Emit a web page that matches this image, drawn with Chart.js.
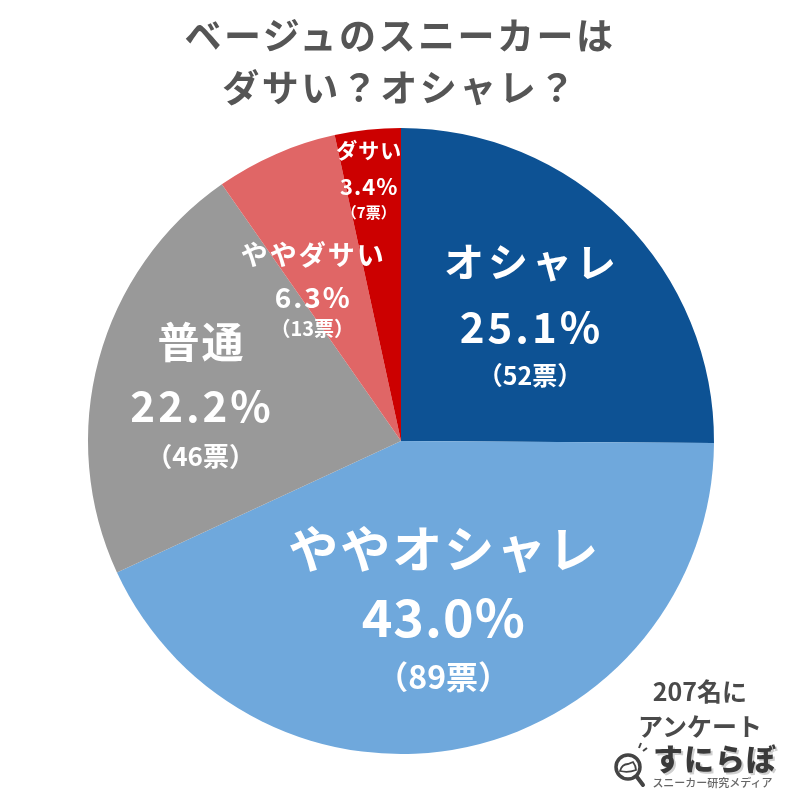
<!DOCTYPE html>
<html><head><meta charset="utf-8">
<script src="https://cdn.jsdelivr.net/npm/chart.js@4.4.1/dist/chart.umd.min.js"></script>
<style>
html,body{margin:0;padding:0;background:#fff;}
#wrap{width:800px;height:800px;position:relative;overflow:hidden;font-family:"Noto Sans CJK JP","Noto Sans",sans-serif;}
#c{position:absolute;left:0;top:0;}
#title{position:absolute;left:0;top:8px;width:800px;text-align:center;font-size:37px;font-weight:700;color:#555;line-height:52px;letter-spacing:2.5px;}
#note{position:absolute;left:600px;top:673px;width:200px;text-align:center;font-size:25px;font-weight:700;color:#4a4a4a;line-height:35px;}
#logo{position:absolute;left:650px;top:738px;width:130px;text-align:center;font-size:30px;font-weight:900;color:#3a3a3a;line-height:38px;letter-spacing:1px;text-shadow:2px 2px 0 #cfcfcf;}
#sub{position:absolute;left:645px;top:774px;width:135px;text-align:center;font-size:11px;font-weight:500;color:#666;line-height:16px;}
#icon{position:absolute;left:608px;top:740px;}
</style>
</head><body><div id="wrap">
<canvas id="c" width="800" height="800"></canvas>
<div id="title"></div>
<div id="note"></div>
<div id="logo"></div>
<div id="sub"></div>
<svg id="icon" width="44" height="52" viewBox="0 0 44 52">
  <circle cx="20" cy="27" r="12" fill="#fff" stroke="#444" stroke-width="3.5"/>
  <line x1="29" y1="37" x2="35" y2="45" stroke="#444" stroke-width="4" stroke-linecap="round"/>
  <path d="M12 31 Q14 24 20 24 L25 22 Q28 26 28 30 Q20 33 12 31 Z" fill="none" stroke="#444" stroke-width="1.8"/>
  <line x1="31" y1="8" x2="33" y2="3" stroke="#444" stroke-width="2"/>
  <line x1="35" y1="11" x2="39" y2="8" stroke="#444" stroke-width="2"/>
</svg>
</div>
<script>
// ---- data ----
const categories = ['オシャレ', 'ややオシャレ', '普通', 'ややダサい', 'ダサい'];
const percentages = [25.1, 43.0, 22.2, 6.3, 3.4];
const votes = [52, 89, 46, 13, 7];
const titleLines = ['ベージュのスニーカーは', 'ダサい？オシャレ？'];
const noteLines = ['207名に', 'アンケート'];
const logoText = 'すにらぼ';
const logoSub = 'スニーカー研究メディア';

// ---- styles ----
const colors = ['#0d5294', '#6fa8dc', '#999999', '#e06666', '#cc0000'];
const labelRadius = [0.55, 0.58, 0.65, 0.54, 0.82];
const labelAngleShift = [3.3, -1.2, -5.2, -8.1, -1.1]; // degrees, clockwise
const nameFont = [40, 50, 42, 27, 21];
const pctFont = [42, 52, 42, 28, 22];
const cntFont = [25, 32, 26, 20, 15];
const nameSpacing = [4, 2, 2, 2, 1];
const pctSpacing = [3, 1, 3, 2, 1];
const nameOffset = [-65, -69, -64, -42, -36];
const cntOffset = [49, 59, 50, 31, 26];

document.getElementById('title').innerHTML = titleLines.join('<br>');
document.getElementById('note').innerHTML = noteLines.join('<br>');
document.getElementById('logo').textContent = logoText;
document.getElementById('sub').textContent = logoSub;

const FONT = '"Noto Sans CJK JP", "Noto Sans", sans-serif';

function drawText(ctx, txt, x, y, size, spacing) {
  ctx.font = 'bold ' + size + 'px ' + FONT;
  ctx.letterSpacing = spacing + 'px';
  ctx.fillText(txt, x + spacing / 2, y);
}

const sliceLabels = {
  id: 'sliceLabels',
  afterDatasetsDraw(chart) {
    const ctx = chart.ctx;
    const meta = chart.getDatasetMeta(0);
    ctx.save();
    ctx.fillStyle = '#ffffff';
    ctx.textAlign = 'center';
    ctx.textBaseline = 'middle';
    meta.data.forEach((arc, i) => {
      const p = arc.getProps(['x', 'y', 'startAngle', 'endAngle', 'outerRadius'], true);
      const mid = (p.startAngle + p.endAngle) / 2 + labelAngleShift[i] * Math.PI / 180;
      const r = p.outerRadius * labelRadius[i];
      const x = p.x + Math.cos(mid) * r;
      const y = p.y + Math.sin(mid) * r;
      drawText(ctx, categories[i], x, y + nameOffset[i], nameFont[i], nameSpacing[i]);
      drawText(ctx, percentages[i].toFixed(1) + '%', x, y, pctFont[i], pctSpacing[i]);
      drawText(ctx, '（' + votes[i] + '票）', x, y + cntOffset[i], cntFont[i], 0);
    });
    ctx.restore();
  }
};

new Chart(document.getElementById('c'), {
  type: 'pie',
  data: {
    labels: categories,
    datasets: [{
      data: percentages,
      backgroundColor: colors,
      borderWidth: 0
    }]
  },
  options: {
    responsive: false,
    animation: false,
    layout: { padding: { left: 88, right: 86, top: 128, bottom: 46 } },
    plugins: {
      legend: { display: false },
      tooltip: { enabled: false },
      title: { display: false }
    }
  },
  plugins: [sliceLabels]
});
</script>
</body></html>
